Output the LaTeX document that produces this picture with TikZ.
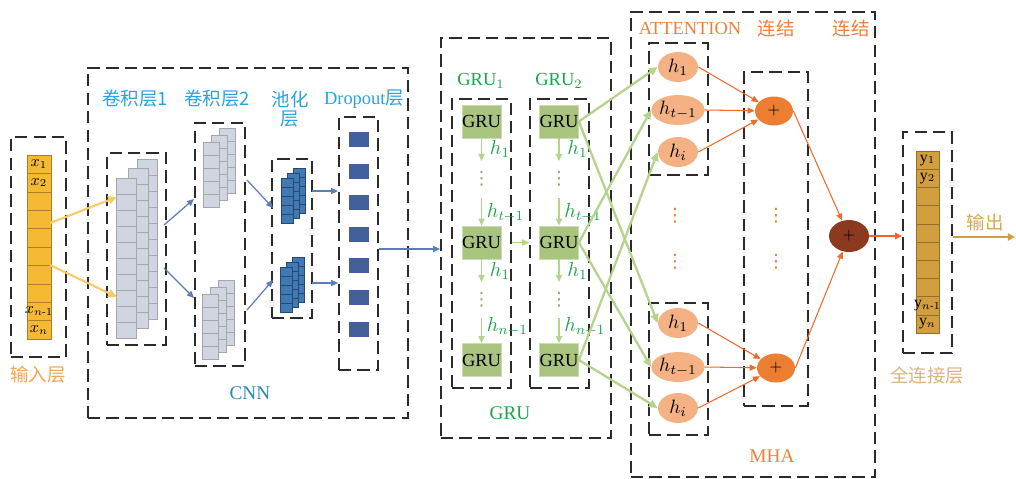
\RequirePackage{fix-cm}
\documentclass[tikz,border=0pt]{standalone}
\usepackage{amsmath}
\usepackage{fontspec}
\setmainfont{Liberation Serif}
\newfontfamily\cjk{Noto Sans CJK SC}
\newfontfamily\dejavu{DejaVu Sans}
\usetikzlibrary{arrows.meta,positioning,fit,shapes.geometric}
\definecolor{inyellow}{HTML}{F5B933}
\definecolor{outgold}{HTML}{D39F3E}
\definecolor{convgray}{HTML}{CFD6E2}
\definecolor{poolblue}{HTML}{4179B5}
\definecolor{dropnavy}{HTML}{43609C}
\definecolor{grugreen}{HTML}{A9C47F}
\definecolor{linegreen}{HTML}{B6D38E}
\definecolor{attpeach}{HTML}{F4B183}
\definecolor{sumorange}{HTML}{ED7D31}
\definecolor{catbrown}{HTML}{8B3A1F}
\definecolor{cnnblue}{HTML}{2AA3DC}
\definecolor{labgreen}{HTML}{1FA34A}
\definecolor{laborange}{HTML}{F07F3C}
\definecolor{inlab}{HTML}{F4A450}
\definecolor{fclab}{HTML}{D9B477}
\definecolor{arrblue}{HTML}{5B7DB8}
\definecolor{dashgray}{HTML}{2B2B2B}

\begin{document}
\begin{tikzpicture}[x=0.02cm,y=-0.02cm,
  group/.style={draw=dashgray,line width=1pt,dash pattern=on 7pt off 3.5pt,inner sep=0pt},
  incell/.style={draw=inyellow!70!black,line width=0.3pt,fill=inyellow,
    minimum width=0.48cm,minimum height=0.368cm,inner sep=0pt},
  fccell/.style={incell,draw=outgold!70!black,fill=outgold,
    minimum width=0.46cm,minimum height=0.364cm},
  celltxt/.style={inner sep=0pt,font=\fontsize{9}{9}\selectfont},
  convcell/.style={draw=gray!70,line width=0.3pt,fill=convgray},
  poolcell/.style={draw=poolblue!60!black,line width=0.3pt,fill=poolblue},
  dropsq/.style={fill=dropnavy,minimum width=0.4cm,minimum height=0.3cm,inner sep=0pt},
  grunode/.style={draw=grugreen!60!white,fill=grugreen,minimum width=0.78cm,
    minimum height=0.66cm,inner sep=0pt,font=\fontsize{10.5}{11}\selectfont},
  attn/.style={ellipse,fill=attpeach,minimum width=0.8cm,minimum height=0.6cm,
    inner sep=0pt,font=\fontsize{11}{12}\selectfont},
  sumnode/.style={ellipse,fill=sumorange,minimum width=0.76cm,minimum height=0.58cm,
    inner sep=0pt,font=\small},
  catnode/.style={sumnode,fill=catbrown,minimum width=0.8cm,minimum height=0.64cm},
  hlab/.style={anchor=west,text=labgreen,inner sep=0pt,font=\fontsize{11.5}{12}\selectfont},
  gdots/.style={text=linegreen!80!black,inner sep=0pt,font=\dejavu\fontsize{10.5}{11}\selectfont},
  odots/.style={text=sumorange,inner sep=0pt,font=\dejavu\fontsize{10.5}{11}\selectfont},
  lab/.style={inner sep=0pt,font=\fontsize{10.5}{12}\selectfont},
  yarrow/.style={draw=inyellow!75!white,line width=1.2pt,-{Triangle[length=5pt,width=4.5pt]}},
  barrow/.style={draw=arrblue,line width=0.7pt,-{Triangle[length=4pt,width=3.5pt]}},
  garrow/.style={draw=linegreen,line width=0.8pt,-{Triangle[length=4pt,width=3.5pt]}},
  gline/.style={draw=linegreen,line width=1.3pt,-{Triangle[length=5pt,width=4.5pt]}},
  oarrow/.style={draw=sumorange!85!red,line width=0.6pt,-{Triangle[length=4pt,width=3.5pt]}}
]
\useasboundingbox (0,0) rectangle (1016,478);

% dashed groups
\node[group,fit={(11,137) (66,357)}] (inbox) {};
\node[group,fit={(88,68) (408,418)}] (cnnbox) {};
\node[group,fit={(107,153) (166,345)}] (conv1box) {};
\node[group,fit={(195,123) (245,366)}] (conv2box) {};
\node[group,fit={(272,159) (312,318)}] (poolbox) {};
\node[group,fit={(339,117) (378,370)}] (dropbox) {};
\node[group,fit={(441,38) (611,438)}] (grubox) {};
\node[group,fit={(452,99) (511,388)}] (gru1box) {};
\node[group,fit={(530,99) (589,388)}] (gru2box) {};
\node[group,fit={(631,12) (875,477)}] (mhabox) {};
\node[group,fit={(649,43) (708,175)}] (att1box) {};
\node[group,fit={(649,303) (708,435)}] (att2box) {};
\node[group,fit={(744,72) (808,406)}] (sumbox) {};
\node[group,fit={(903,132) (952,353)}] (fcbox) {};

% input column
\foreach \i in {0,...,9}
  \node[incell] (in-\i) at (39,164.2+18.4*\i) {};
\foreach \i/\t in {0/{$x_1$},1/{$x_2$},8/{$x_{n\text{-}1}$},9/{$x_n$}}
  \node[celltxt] (inl-\i) at (in-\i) {\t};
\node[lab,text=inlab] (inlabel) at (38,375) {\cjk 输入层};

% conv layers
\foreach \dx/\dy in {21/19,12/10,0/0}
  \foreach \k in {0,...,9}
    \draw[convcell] (116+\dx,178-\dy+16*\k) rectangle ++(20,16);
\foreach \dx/\dy in {16/14,8/7,0/0}
  \foreach \k in {0,...,4} {
    \draw[convcell] (203+\dx,142-\dy+13*\k) rectangle ++(16,13);
    \draw[convcell] (202+\dx,294-\dy+13*\k) rectangle ++(16,13);
  }
% pooling
\foreach \dx/\dy in {12/10,6/5,0/0}
  \foreach \k in {0,...,4} {
    \draw[poolcell] (281+\dx,178-\dy+9*\k) rectangle ++(12,9);
    \draw[poolcell] (280+\dx,267-\dy+9*\k) rectangle ++(12,9);
  }
% dropout
\foreach \k in {0,...,6}
  \node[dropsq] (dp-\k) at (358.5,139.5+31.6*\k) {};

\node[lab,text=cnnblue] (c1lab) at (135,99) {\cjk 卷积层1};
\node[lab,text=cnnblue] (c2lab) at (217,99) {\cjk 卷积层2};
\node[lab,text=cnnblue,align=center] (plab) at (290,109) {\cjk 池化\\[-1pt]\cjk 层};
\node[lab,text=cnnblue] (dlab) at (364,99) {Dropout{\cjk 层}};
\node[lab,text=cnnblue!85!black,font=\fontsize{11}{12}\selectfont] (cnnlab) at (250,393) {CNN};

\coordinate (inA) at (50,223);
\coordinate (inB) at (50,265);
\coordinate (c1A) at (117,197);
\coordinate (c1B) at (117,297);
\coordinate (c1C) at (164,225);
\coordinate (c1D) at (164,268);
\coordinate (c2A) at (194,199);
\coordinate (c2B) at (194,298);
\coordinate (c2C) at (247,180);
\coordinate (c2D) at (247,310);
\coordinate (pA) at (273,208);
\coordinate (pB) at (273,280);
\coordinate (pC) at (312,191);
\coordinate (pD) at (312,283);
\draw[yarrow] (inA) -- (c1A);
\draw[yarrow] (inB) -- (c1B);
\draw[barrow] (c1C) -- (c2A);
\draw[barrow] (c1D) -- (c2B);
\draw[barrow] (c2C) -- (pA);
\draw[barrow] (c2D) -- (pB);
\draw[barrow] (pC) -- (dropbox.west |- pC);
\draw[barrow] (pD) -- (dropbox.west |- pD);
\coordinate (dropOut) at (379,249);
\draw[barrow] (dropOut) -- (grubox.west |- dropOut);

% GRU columns
\foreach \c/\x in {1/481.5,2/559} {
  \node[grunode] (g\c-1) at (\x,121.5) {GRU};
  \node[grunode] (g\c-2) at (\x,242.5) {GRU};
  \node[grunode] (g\c-3) at (\x,360) {GRU};
  \coordinate (e\c-1) at (\x,161);
  \coordinate (f\c-1) at (\x,198);
  \coordinate (e\c-2) at (\x,282);
  \coordinate (f\c-2) at (\x,318);
  \node[gdots] (v\c-1) at (\x,179) {⋮};
  \node[gdots] (v\c-2) at (\x,300) {⋮};
  \draw[garrow] (g\c-1.south) -- (e\c-1);
  \draw[garrow] (f\c-1) -- (g\c-2.north);
  \draw[garrow] (g\c-2.south) -- (e\c-2);
  \draw[garrow] (f\c-2) -- (g\c-3.north);
  \node[hlab] (h\c-1) at (\x+8,149) {$h_1$};
  \node[hlab] (h\c-2) at (\x+5,213) {$h_{t-1}$};
  \node[hlab] (h\c-3) at (\x+8,271) {$h_1$};
  \node[hlab] (h\c-4) at (\x+5,327) {$h_{n-1}$};
}
\draw[garrow] (gru1box.east |- g1-2) -- (gru2box.west |- g2-2);
\node[lab,text=labgreen] (gru1lab) at (481,81) {GRU$_1$};
\node[lab,text=labgreen] (gru2lab) at (559,81) {GRU$_2$};
\node[lab,text=labgreen,font=\fontsize{11}{12}\selectfont] (grulab) at (510,413) {GRU};

% attention heads
\node[attn] (a1) at (678,67) {$h_1$};
\node[attn] (a2) at (678,110) {$h_{t-1}$};
\node[attn] (a3) at (678,152) {$h_i$};
\node[attn] (b1) at (678,323) {$h_1$};
\node[attn] (b2) at (678,367) {$h_{t-1}$};
\node[attn] (b3) at (678,408) {$h_i$};
\draw[gline] (g2-1.east) -- (a1.west);
\draw[gline] (g2-1.east) -- (b1.west);
\draw[gline] (g2-2.east) -- (a2.west);
\draw[gline] (g2-2.east) -- (b2.west);
\draw[gline] (g2-3.east) -- (a3.west);
\draw[gline] (g2-3.east) -- (b3.west);

\node[odots] (od-1) at (675,216) {⋮};
\node[odots] (od-2) at (675,262) {⋮};
\node[odots] (od-3) at (776,216) {⋮};
\node[odots] (od-4) at (776,262) {⋮};

% concatenation
\node[sumnode] (s1) at (774,111) {$+$};
\node[sumnode] (s2) at (776,368) {$+$};
\node[catnode] (cat) at (849,236) {$+$};
\foreach \n in {a1,a2,a3}
  \draw[oarrow] (\n.east) -- (s1);
\foreach \n in {b1,b2,b3}
  \draw[oarrow] (\n.east) -- (s2);
\draw[oarrow] (s1.east) -- (cat);
\draw[oarrow] (s2.east) -- (cat);
\draw[oarrow,line width=1.2pt,draw=sumorange!80!red] (cat.east) -- (fcbox.west |- cat.east);

\node[lab,text=laborange] (attlab) at (690,28) {ATTENTION};
\node[lab,text=laborange] (cat1lab) at (776,28) {\cjk 连结};
\node[lab,text=laborange] (cat2lab) at (851,28) {\cjk 连结};
\node[lab,text=laborange,font=\fontsize{11}{12}\selectfont] (mhalab) at (772,456) {MHA};

% fully connected output
\foreach \i in {0,...,9}
  \node[fccell] (fc-\i) at (927.5,160.1+18.2*\i) {};
\foreach \i/\t in {0/{y$_1$},1/{y$_2$},8/{y$_{n\text{-}1}$},9/{y$_n$}}
  \node[celltxt] (fcl-\i) at (fc-\i) {\t};
\node[lab,text=fclab] (fclab) at (927,375) {\cjk 全连接层};
\coordinate (outEnd) at (1015,237);
\draw[draw=outgold,line width=1.2pt,-{Triangle[length=4pt,width=4pt]}] (fcbox.east |- outEnd) -- (outEnd);
\node[lab,text=outgold!90!white] (outlab) at (985,222) {\cjk 输出};
\end{tikzpicture}
\end{document}
